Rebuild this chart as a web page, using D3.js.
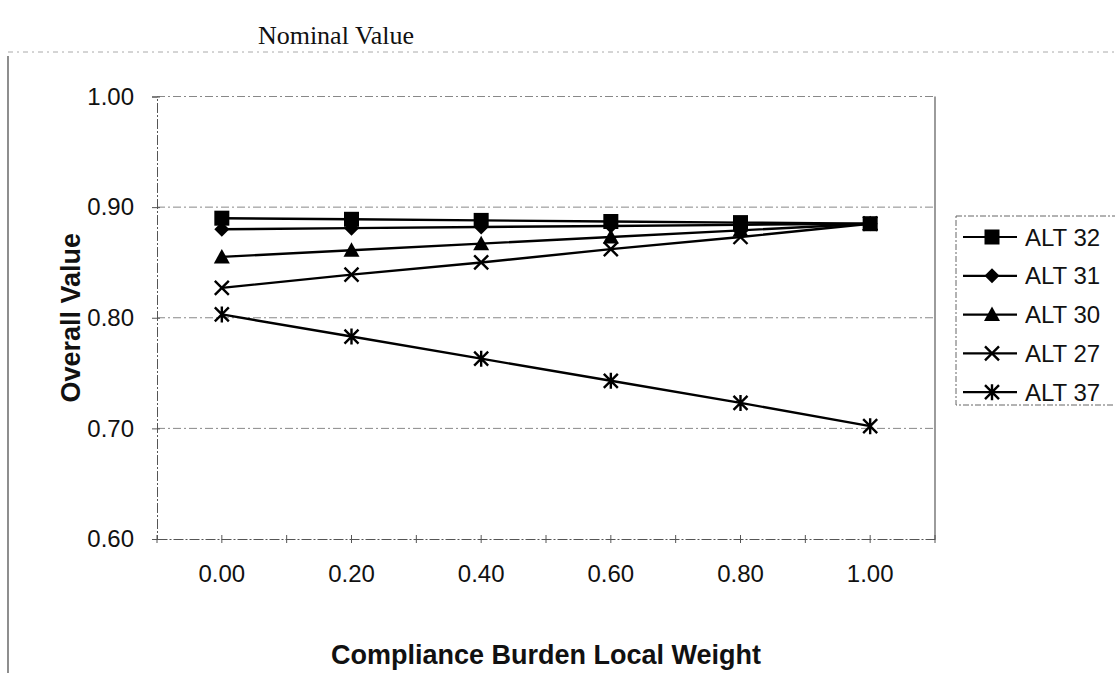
<!DOCTYPE html>
<html>
<head>
<meta charset="utf-8">
<script src="https://cdn.jsdelivr.net/npm/d3@7"></script>
<style>
  body { margin: 0; background: #fff; }
  svg { display: block; }
</style>
</head>
<body>
<svg id="chart" width="1115" height="673"></svg>
<script>
const categories = ["0.00", "0.20", "0.40", "0.60", "0.80", "1.00"];
const seriesNames = ["ALT 32", "ALT 31", "ALT 30", "ALT 27", "ALT 37"];
const alt32 = [0.890, 0.889, 0.888, 0.887, 0.886, 0.885];
const alt31 = [0.880, 0.881, 0.882, 0.883, 0.884, 0.885];
const alt30 = [0.855, 0.861, 0.867, 0.873, 0.879, 0.885];
const alt27 = [0.827, 0.839, 0.850, 0.862, 0.873, 0.885];
const alt37 = [0.803, 0.783, 0.763, 0.743, 0.723, 0.702];
const yTicks = [0.60, 0.70, 0.80, 0.90, 1.00];
const markerTypes = ["square", "diamond", "triangle", "x", "star"];

const seriesValues = [alt32, alt31, alt30, alt27, alt37];

const svg = d3.select("#chart");
const plot = { left: 157, right: 935, top: 96.5, bottom: 539 };

const x = d3.scaleBand().domain(categories).range([plot.left, plot.right]);
const xc = d => x(d) + x.bandwidth() / 2;
const y = d3.scaleLinear().domain([0.6, 1.0]).range([plot.bottom, plot.top]);

// Outer chart frame (scan edges)
svg.append("line").attr("x1", 8).attr("x2", 1115).attr("y1", 52).attr("y2", 52)
  .attr("stroke", "#aaa").attr("stroke-width", 1).attr("stroke-dasharray", "5,4,2,4");
svg.append("line").attr("x1", 8).attr("x2", 8).attr("y1", 56).attr("y2", 673)
  .attr("stroke", "#444").attr("stroke-width", 1.2);

// Title
svg.append("text").attr("x", 336).attr("y", 44).attr("text-anchor", "middle")
  .attr("font-family", "'Liberation Serif', 'Times New Roman', serif")
  .attr("font-size", 26).attr("fill", "#111").text("Nominal Value");

// Gridlines
svg.append("g").selectAll("line").data(yTicks.filter(v => v > 0.6))
  .join("line")
  .attr("x1", plot.left).attr("x2", plot.right)
  .attr("y1", d => y(d)).attr("y2", d => y(d))
  .attr("stroke", "#888").attr("stroke-width", 1)
  .attr("stroke-dasharray", "8,3,2,3");

// Plot border right
svg.append("line").attr("x1", plot.right).attr("x2", plot.right)
  .attr("y1", plot.top).attr("y2", plot.bottom)
  .attr("stroke", "#666").attr("stroke-width", 1.3);

// Y axis
const yAxis = d3.axisLeft(y).tickValues(yTicks).tickFormat(d3.format(".2f")).tickSize(5).tickPadding(18);
const gy = svg.append("g").attr("transform", `translate(${plot.left},0)`).call(yAxis);
gy.select(".domain").attr("stroke", "#555").attr("stroke-dasharray", "10,2,2,2");
gy.selectAll(".tick line").attr("stroke", "#555").attr("x2", -5).attr("x1", 3);
gy.selectAll("text").attr("font-family", "Arial, 'Liberation Sans', sans-serif")
  .attr("font-size", 24).attr("fill", "#111");

// X axis
const xAxis = d3.axisBottom(x).tickSize(0).tickPadding(26);
const gx = svg.append("g").attr("transform", `translate(0,${plot.bottom})`).call(xAxis);
gx.select(".domain").attr("stroke", "#555").attr("stroke-dasharray", "10,2,2,2");
gx.selectAll("text").attr("font-family", "Arial, 'Liberation Sans', sans-serif")
  .attr("font-size", 24).attr("fill", "#111");
const tickPos = [];
categories.forEach(c => { tickPos.push(x(c)); tickPos.push(xc(c)); });
tickPos.push(plot.right);
gx.append("g").selectAll("line").data(tickPos).join("line")
  .attr("x1", d => d).attr("x2", d => d).attr("y1", -4).attr("y2", 4)
  .attr("stroke", "#555").attr("stroke-width", 1);

// Axis titles
svg.append("text").attr("transform", `translate(80,${(plot.top + plot.bottom) / 2}) rotate(-90)`)
  .attr("text-anchor", "middle")
  .attr("font-family", "Arial, 'Liberation Sans', sans-serif")
  .attr("font-weight", "bold").attr("font-size", 27).attr("fill", "#111")
  .text("Overall Value");
svg.append("text").attr("x", 546).attr("y", 664).attr("text-anchor", "middle")
  .attr("font-family", "Arial, 'Liberation Sans', sans-serif")
  .attr("font-weight", "bold").attr("font-size", 27).attr("fill", "#111")
  .text("Compliance Burden Local Weight");

// Marker drawing
function drawMarker(g, type, cx, cy) {
  if (type === "square") {
    g.append("rect").attr("x", cx - 7.5).attr("y", cy - 7.5).attr("width", 15).attr("height", 15).attr("fill", "#000");
  } else if (type === "diamond") {
    g.append("path").attr("d", `M${cx},${cy - 7.5}L${cx + 7.5},${cy}L${cx},${cy + 7.5}L${cx - 7.5},${cy}Z`).attr("fill", "#000");
  } else if (type === "triangle") {
    g.append("path").attr("d", `M${cx},${cy - 8}L${cx + 8},${cy + 6.5}L${cx - 8},${cy + 6.5}Z`).attr("fill", "#000");
  } else if (type === "x") {
    g.append("path").attr("d", `M${cx - 7},${cy - 7}L${cx + 7},${cy + 7}M${cx - 7},${cy + 7}L${cx + 7},${cy - 7}`)
      .attr("stroke", "#000").attr("stroke-width", 2.4).attr("fill", "none");
  } else if (type === "star") {
    g.append("path").attr("d", `M${cx - 7},${cy - 7}L${cx + 7},${cy + 7}M${cx - 7},${cy + 7}L${cx + 7},${cy - 7}M${cx},${cy - 8}L${cx},${cy + 8}`)
      .attr("stroke", "#000").attr("stroke-width", 2.4).attr("fill", "none");
  }
}

// Series
const line = d3.line().x((d, i) => xc(categories[i])).y(d => y(d));
seriesValues.forEach((vals, s) => {
  const g = svg.append("g");
  g.append("path").datum(vals).attr("d", line)
    .attr("fill", "none").attr("stroke", "#000").attr("stroke-width", 2.4);
  vals.forEach((v, i) => drawMarker(g, markerTypes[s], xc(categories[i]), y(v)));
});

// Legend
const lg = svg.append("g");
lg.append("rect").attr("x", 956).attr("y", 216).attr("width", 200).attr("height", 189)
  .attr("fill", "none").attr("stroke", "#666").attr("stroke-width", 1).attr("stroke-dasharray", "6,2,2,2");
seriesNames.forEach((name, i) => {
  const cy = 237 + i * 38.8;
  lg.append("line").attr("x1", 963).attr("x2", 1017).attr("y1", cy).attr("y2", cy)
    .attr("stroke", "#000").attr("stroke-width", 2.2);
  drawMarker(lg, markerTypes[i], 992, cy);
  lg.append("text").attr("x", 1025).attr("y", cy + 8.5)
    .attr("font-family", "Arial, 'Liberation Sans', sans-serif")
    .attr("font-size", 24).attr("fill", "#111").text(name);
});
</script>
</body>
</html>
